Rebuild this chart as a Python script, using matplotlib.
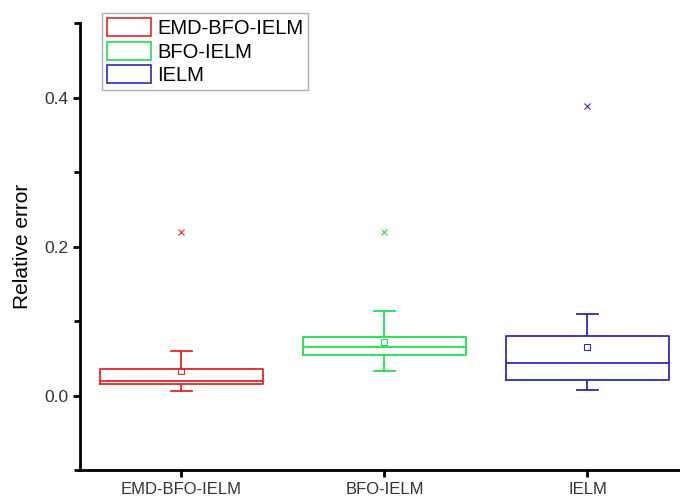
import matplotlib
matplotlib.use('Agg')
import matplotlib.pyplot as plt
from matplotlib.patches import Patch
from matplotlib.ticker import MultipleLocator

plt.rcParams['font.family'] = ['Liberation Sans', 'DejaVu Sans']

# Box statistics per model (relative error)
models = ['EMD-BFO-IELM', 'BFO-IELM', 'IELM']
colors = ['#e82424', '#1ee04a', '#2a2ac0']
whisker_low = [0.006, 0.033, 0.007]
q1 = [0.015, 0.054, 0.021]
median = [0.020, 0.065, 0.043]
q3 = [0.036, 0.079, 0.080]
whisker_high = [0.060, 0.114, 0.109]
mean = [0.033, 0.072, 0.065]
outliers = [[0.219], [0.219], [0.388]]

fig = plt.figure(figsize=(6.8, 4.98), dpi=100)
ax = fig.add_axes([0.1176, 0.0562, 0.8956, 0.8976])

for i, name in enumerate(models):
    st = dict(label=name, whislo=whisker_low[i], q1=q1[i], med=median[i],
              q3=q3[i], whishi=whisker_high[i], mean=mean[i], fliers=outliers[i])
    c = colors[i]
    ax.bxp([st], positions=[i + 1], widths=0.8, capwidths=0.1,
           showmeans=True, showfliers=True,
           boxprops=dict(color=c, linewidth=1.3),
           medianprops=dict(color=c, linewidth=1.3),
           whiskerprops=dict(color=c, linewidth=1.3),
           capprops=dict(color=c, linewidth=1.3),
           meanprops=dict(marker='s', markersize=4, markerfacecolor='none',
                          markeredgecolor=c, markeredgewidth=0.8),
           flierprops=dict(marker='x', markersize=4, markeredgecolor=c,
                           markeredgewidth=0.8))

ax.set_xlim(0.5, 3.5)
ax.set_ylim(-0.1, 0.5)
ax.set_xticks([1, 2, 3])
ax.set_xticklabels(models, fontsize=12)
ax.set_yticks([0.0, 0.2, 0.4])
ax.set_yticklabels(['0.0', '0.2', '0.4'], fontsize=12.5)
ax.yaxis.set_minor_locator(MultipleLocator(0.1))
ax.set_ylabel('Relative error', fontsize=15, labelpad=9)

for side in ['top', 'right']:
    ax.spines[side].set_visible(False)
for side in ['left', 'bottom']:
    ax.spines[side].set_linewidth(2)
ax.tick_params(axis='both', which='major', direction='out', length=5, width=2,
               colors='black', labelcolor='#333333')
ax.tick_params(axis='y', which='minor', direction='out', length=4, width=2)

# open rectangles as legend keys
handles = [Patch(facecolor='none', edgecolor=c, linewidth=1.2) for c in colors]
leg = ax.legend(handles, models, loc='upper left', bbox_to_anchor=(0.036, 1.022),
                fontsize=14.5, frameon=True, fancybox=False, handlelength=2.2,
                handleheight=1.0, handletextpad=0.3, labelspacing=0.18,
                borderpad=0.25, borderaxespad=0.0)
leg.get_frame().set_edgecolor('#999999')
leg.get_frame().set_linewidth(1.0)

fig.savefig('out.png', dpi=100)
